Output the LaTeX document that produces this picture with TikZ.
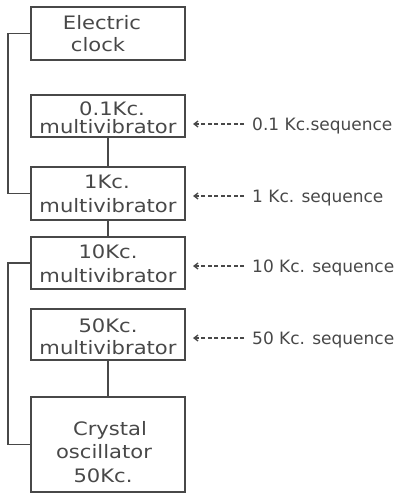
\documentclass[tikz,border=0pt]{standalone}
\usepackage{fontspec}
\usetikzlibrary{arrows.meta}
\newfontfamily\lett[FakeStretch=1.14]{DejaVu Sans}
\newfontfamily\slett{DejaVu Sans}
\definecolor{ink}{RGB}{72,72,72}
\tikzset{
  blk/.style={draw=ink, line width=1.7pt, minimum width=154pt, inner sep=0pt},
  btxt/.style={text=ink, font=\lett\fontsize{18.5}{20}\selectfont, anchor=base, inner sep=0pt},
  stxt/.style={text=ink, font=\slett\fontsize{17}{20}\selectfont, anchor=west, inner sep=0pt, text height=12pt, text depth=0pt},
  wire/.style={draw=ink, line width=1.7pt},
  seqarrow/.style={draw=ink, line width=1.3pt, dash pattern=on 4pt off 2.5pt, -{Straight Barb[length=4pt,width=6pt]}}
}
\begin{document}
\begin{tikzpicture}[x=1pt,y=-1pt]
\useasboundingbox (0,0) rectangle (403,495);
% boxes
\node[blk, minimum height=53pt] (clock) at (108,33.5) {};
\node[blk, minimum height=42pt] (m01) at (108,116) {};
\node[blk, minimum height=53pt] (m1) at (108,193.5) {};
\node[blk, minimum height=52pt] (m10) at (108,263) {};
\node[blk, minimum height=51pt] (m50) at (108,334.5) {};
\node[blk, minimum height=95pt] (xtal) at (108,444.5) {};
% box texts
\node[btxt] (t1a) at (102,30) {Electric};
\node[btxt] (t1b) at (98,52) {clock};
\node[btxt] (t2a) at (112,115) {0.1Kc.};
\node[btxt] (t2b) at (108,133.5) {multivibrator};
\node[btxt] (t3a) at (107,188) {1Kc.};
\node[btxt] (t3b) at (108,212) {multivibrator};
\node[btxt] (t4a) at (108,258) {10Kc.};
\node[btxt] (t4b) at (108,282) {multivibrator};
\node[btxt] (t5a) at (108,332) {50Kc.};
\node[btxt] (t5b) at (108,354) {multivibrator};
\node[btxt] (t6a) at (110,435) {Crystal};
\node[btxt] (t6b) at (104,458) {oscillator};
\node[btxt] (t6c) at (103,482) {50Kc.};
% connectors
\coordinate (busx) at (8,0);
\draw[wire] (clock.west) -- (clock.west -| busx) |- (m1.west);
\draw[wire] (m10.west) -- (m10.west -| busx) |- (xtal.west);
\draw[wire] (m01.south) -- (m1.north);
\draw[wire] (m1.south) -- (m10.north);
\draw[wire] (m50.south) -- (xtal.north);
% sequence inputs
\coordinate (tipx) at (193,0);
\node[stxt] (s01) at (252,124) {0.1 Kc.sequence};
\node[stxt] (s1) at (252,196) {1 Kc. sequence};
\node[stxt] (s10) at (252,266) {10 Kc. sequence};
\node[stxt] (s50) at (252,338) {50 Kc. sequence};
\draw[seqarrow] ([xshift=-8pt]s01.west) -- (s01.west -| tipx);
\draw[seqarrow] ([xshift=-8pt]s1.west) -- (s1.west -| tipx);
\draw[seqarrow] ([xshift=-8pt]s10.west) -- (s10.west -| tipx);
\draw[seqarrow] ([xshift=-8pt]s50.west) -- (s50.west -| tipx);
\end{tikzpicture}
\end{document}
